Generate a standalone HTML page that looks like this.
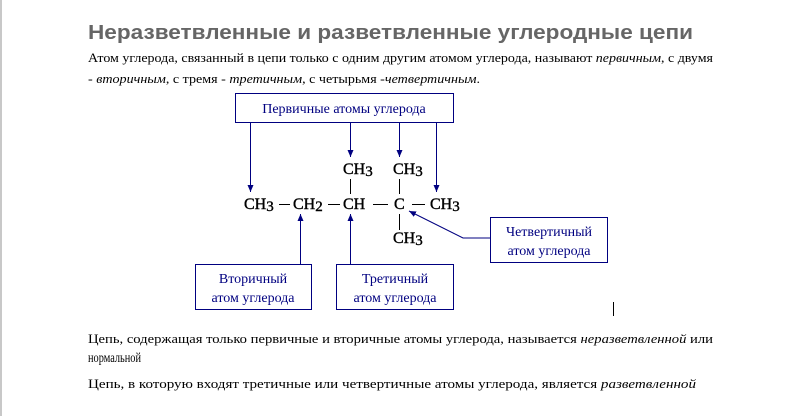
<!DOCTYPE html>
<html><head><meta charset="utf-8"><style>
html,body{margin:0;padding:0;background:#fff;width:792px;height:416px;overflow:hidden}
svg{display:block}
</style></head><body>
<svg width="792" height="416" viewBox="0 0 792 416" xmlns="http://www.w3.org/2000/svg">
<defs><marker id="a" markerWidth="8" markerHeight="8" refX="7" refY="4" orient="auto" markerUnits="userSpaceOnUse"><path d="M0,1 L7,4 L0,7 Z" fill="#000080"/></marker></defs>
<rect x="0" y="0" width="2" height="416" fill="#c8c8c8"/>
<text x="88" y="39" font-family="Liberation Sans, sans-serif" font-weight="bold" font-size="20" fill="#666" textLength="605" lengthAdjust="spacingAndGlyphs">Неразветвленные и разветвленные углеродные цепи</text>
<g font-family="Liberation Serif, serif" font-size="13" fill="#000">
<text x="88" y="62" textLength="625" lengthAdjust="spacingAndGlyphs">Атом углерода, связанный в цепи только с одним другим атомом углерода, называют <tspan font-style="italic">первичным</tspan>, с двумя</text>
<text x="88" y="83" textLength="392" lengthAdjust="spacingAndGlyphs">- <tspan font-style="italic">вторичным</tspan>, с тремя - <tspan font-style="italic">третичным</tspan>, с четырьмя -<tspan font-style="italic">четвертичным</tspan>.</text>
<text x="88" y="343" textLength="625" lengthAdjust="spacingAndGlyphs">Цепь, содержащая только первичные и вторичные атомы углерода, называется <tspan font-style="italic">неразветвленной</tspan> или</text>
<text x="88" y="362" textLength="53" lengthAdjust="spacingAndGlyphs" font-size="14">нормальной</text>
<text x="88" y="388" textLength="608" lengthAdjust="spacingAndGlyphs">Цепь, в которую входят третичные или четвертичные атомы углерода, является <tspan font-style="italic">разветвленной</tspan></text>
</g>
<g fill="none" stroke="#000080" stroke-width="1">
<rect x="235.5" y="93.5" width="218" height="29"/>
<rect x="195.5" y="264.5" width="116" height="45"/>
<rect x="336.5" y="264.5" width="117" height="45"/>
<rect x="490.5" y="217.5" width="117" height="45"/>
<line x1="250.5" y1="123" x2="250.5" y2="192" marker-end="url(#a)"/>
<line x1="350.5" y1="123" x2="350.5" y2="157" marker-end="url(#a)"/>
<line x1="399.5" y1="123" x2="399.5" y2="157" marker-end="url(#a)"/>
<line x1="436.5" y1="123" x2="436.5" y2="192" marker-end="url(#a)"/>
<line x1="300.5" y1="264" x2="300.5" y2="214" marker-end="url(#a)"/>
<line x1="350.5" y1="264" x2="350.5" y2="214" marker-end="url(#a)"/>
<polyline points="490,238 463,238 409,211" marker-end="url(#a)"/>
</g>
<g fill="#000080" font-family="Liberation Serif, serif" font-size="14" text-anchor="middle">
<text x="344" y="113">Первичные атомы углерода</text>
<text x="253" y="283">Вторичный</text>
<text x="253" y="302">атом углерода</text>
<text x="395" y="283">Третичный</text>
<text x="395" y="302">атом углерода</text>
<text x="549" y="236">Четвертичный</text>
<text x="549" y="255">атом углерода</text>
</g>
<g stroke="#000" stroke-width="1">
<line x1="279" y1="204.5" x2="290" y2="204.5"/>
<line x1="328" y1="204.5" x2="340" y2="204.5"/>
<line x1="373" y1="204.5" x2="388" y2="204.5"/>
<line x1="412" y1="204.5" x2="425" y2="204.5"/>
<line x1="350.5" y1="179" x2="350.5" y2="194"/>
<line x1="399.5" y1="179" x2="399.5" y2="194"/>
<line x1="399.5" y1="214" x2="399.5" y2="230"/>
<line x1="613.5" y1="302" x2="613.5" y2="316"/>
</g>
<g fill="#000" stroke="#000" stroke-width="0.4" font-family="Liberation Serif, serif" font-size="16">
<text x="244" y="209">CH<tspan font-size="15" dy="2">3</tspan></text>
<text x="293" y="209">CH<tspan font-size="15" dy="2">2</tspan></text>
<text x="343" y="209">CH</text>
<text x="394" y="209">C</text>
<text x="430" y="209">CH<tspan font-size="15" dy="2">3</tspan></text>
<text x="343" y="174">CH<tspan font-size="15" dy="2">3</tspan></text>
<text x="393" y="174">CH<tspan font-size="15" dy="2">3</tspan></text>
<text x="393" y="243">CH<tspan font-size="15" dy="2">3</tspan></text>
</g>
</svg>
</body></html>
